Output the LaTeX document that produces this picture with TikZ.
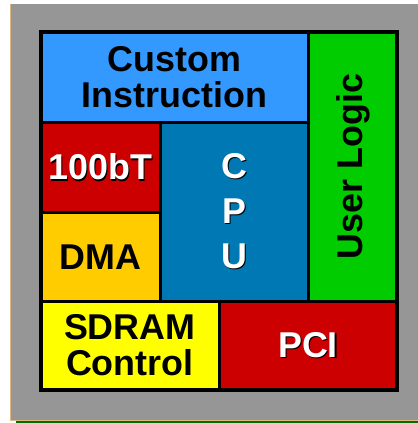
\documentclass[tikz,border=0pt]{standalone}
\usepackage{fontspec}
\setmainfont{Liberation Sans}
\usetikzlibrary{positioning,calc}
\definecolor{chipgray}{RGB}{150,150,150}
\definecolor{custblue}{RGB}{51,153,255}
\definecolor{cpublue}{RGB}{0,120,180}
\definecolor{logicgreen}{RGB}{0,204,0}
\definecolor{ipred}{RGB}{204,0,0}
\definecolor{dmaorange}{RGB}{255,204,0}
\definecolor{sdyellow}{RGB}{255,255,0}
\definecolor{edgetan}{RGB}{222,184,135}
\definecolor{edgegreen}{RGB}{0,110,0}
\newcommand{\wsh}[1]{\makebox[0pt][l]{\kern1.4bp\raisebox{-1.4bp}{\color{black}#1}}\textcolor{white}{#1}}

\begin{document}
\begin{tikzpicture}[x=1bp,y=-1bp,
  blk/.style={draw=black,line width=3bp,anchor=north west,inner sep=0pt,outer sep=0pt,
    align=center,font=\fontsize{36}{36}\selectfont\bfseries}]
  \useasboundingbox (0,0) rectangle (418,423);
  % chip background
  \fill[edgegreen] (16,420.5) rectangle (418,423);
  \fill[chipgray] (10,4) rectangle (418,420.5);
  \draw[edgetan,line width=0.8bp] (10.4,4) -- (10.4,420.1) -- (418,420.1);
  % blocks
  \node[blk,fill=custblue,minimum width=268bp,minimum height=90.5bp] (custom) at (40.5,32) {Custom\\Instruction};
  \node[blk,fill=logicgreen,minimum width=88.5bp,minimum height=269bp] (logic) at (308.5,32) {\kern2bp\rotatebox{90}{User Logic}};
  \node[blk,fill=ipred,minimum width=119.5bp,minimum height=90bp] (ether) at (40.5,122.5) {\wsh{100bT}};
  \node[blk,fill=dmaorange,minimum width=119.5bp,minimum height=88.5bp] (dma) at (40.5,212.5) {DMA};
  \node[blk,fill=cpublue,minimum width=148.5bp,minimum height=178.5bp,
    font=\fontsize{36}{45}\selectfont\bfseries] (cpu) at (160,122.5) {\wsh{C}\\\wsh{P}\\\wsh{U}};
  \node[blk,fill=sdyellow,minimum width=178.5bp,minimum height=89bp] (sdram) at (40.5,301) {SDRAM\\Control};
  \node[blk,fill=ipred,minimum width=178bp,minimum height=89bp] (pci) at (219,301) {\wsh{PCI}};
  % outer frame
  \draw[line width=4bp] (custom.north west) rectangle (pci.south east);
\end{tikzpicture}
\end{document}
